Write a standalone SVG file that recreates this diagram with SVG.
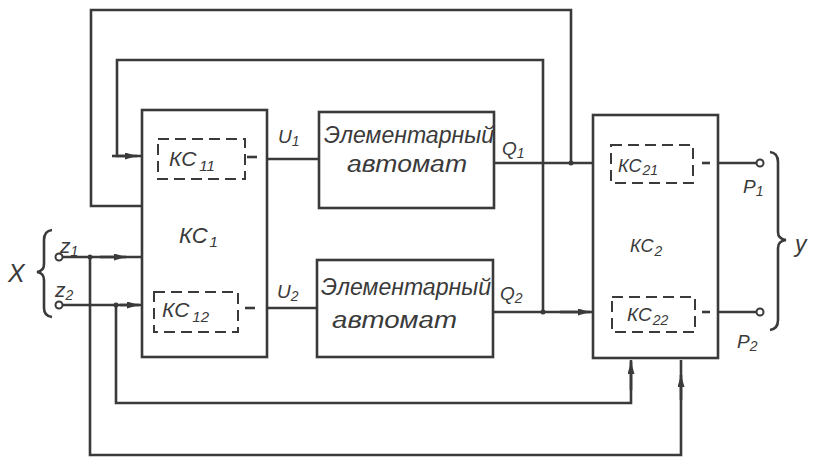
<svg xmlns="http://www.w3.org/2000/svg" width="816" height="460" viewBox="0 0 816 460">
<style>
.box{fill:none;stroke:#3a3a3a;stroke-width:2.6}
.dash{fill:none;stroke:#3a3a3a;stroke-width:2;stroke-dasharray:11 6}
.wire{fill:none;stroke:#3a3a3a;stroke-width:2.6}
.arr{fill:none;stroke:#3a3a3a;stroke-width:2.6;marker-end:url(#ah)}
.term{fill:#fff;stroke:#3a3a3a;stroke-width:2}
.dot{fill:#3a3a3a}
text{font-family:"Liberation Sans","DejaVu Sans",sans-serif;font-style:italic;fill:#3a3a3a}
.sub{font-size:14px}
</style>
<defs>
<marker id="ah" viewBox="0 0 12 7" refX="12" refY="3.5" markerUnits="userSpaceOnUse" markerWidth="12" markerHeight="7" orient="auto">
<path d="M0,0 L12,3.5 L0,7 z" fill="#3a3a3a"/>
</marker>
</defs>
<rect width="816" height="460" fill="#fff"/>

<g id="connectors">
<path class="wire" d="M62,257 H142"/>
<path class="wire" d="M62,305 H142"/>
<path class="wire" d="M90,257 V455 H681 V360"/>
<path class="wire" d="M116,305 V403 H631 V360"/>
<path class="wire" d="M543,312 V60 H117 V156 H142"/>
<path class="wire" d="M571,163 V10 H91 V206 H142"/>
<path class="wire" d="M267,159 H319"/>
<path class="wire" d="M267,308 H317"/>
<path class="wire" d="M494,163 H593"/>
<path class="wire" d="M493,312 H593"/>
<path class="wire" d="M718,163 H756.5"/>
<path class="wire" d="M718,312 H756.5"/>
<path class="arr" d="M112,156 H137"/>
<path class="arr" d="M100,257 H126"/>
<path class="arr" d="M120,305 H139"/>
<path class="arr" d="M560,312 H590"/>
<path class="arr" d="M631,390 V362"/>
<path class="arr" d="M681,400 V375"/>
<circle class="dot" cx="90" cy="257" r="2.5"/>
<circle class="dot" cx="116" cy="305" r="2.5"/>
<circle class="dot" cx="571" cy="163" r="2.5"/>
<circle class="dot" cx="543" cy="312" r="2.5"/>
</g>

<g id="inputs">
<text x="8" y="282" font-size="25">X</text>
<path class="wire" stroke-width="2" d="M52,230 Q44,231 44,240 L44,264 Q44,271 37,272 Q44,273 44,280 L44,308 Q44,316 52,317"/>
<circle class="term" cx="59" cy="257" r="3.5"/>
<circle class="term" cx="59" cy="305" r="3.5"/>
<text x="60" y="253" font-size="21">z<tspan class="sub" dy="3">1</tspan></text>
<text x="55" y="297" font-size="21">z<tspan class="sub" dy="3">2</tspan></text>
</g>

<g id="kc1">
<rect class="box" x="142" y="110" width="125" height="247"/>
<text x="179" y="243" font-size="22">КС<tspan font-size="15" dy="4" dx="2">1</tspan></text>
<g id="kc11">
<rect class="dash" x="158" y="139" width="87" height="40"/>
<path class="wire" stroke-width="2" d="M247,157 H257"/>
<text x="169" y="166" font-size="21">КС<tspan font-size="15" dy="5" dx="3">11</tspan></text>
</g>
<g id="kc12">
<rect class="dash" x="154" y="292" width="84" height="40"/>
<path class="wire" stroke-width="2" d="M245,308 H255"/>
<text x="162" y="317" font-size="21">КС<tspan font-size="15" dy="5" dx="3">12</tspan></text>
</g>
</g>

<g id="label-u">
<text x="278" y="143" font-size="19">U<tspan class="sub" dy="3">1</tspan></text>
<text x="277" y="298" font-size="19">U<tspan class="sub" dy="3">2</tspan></text>
</g>

<g id="automat1">
<rect class="box" x="319" y="112" width="175" height="96"/>
<text x="324" y="143" font-size="23" textLength="170" lengthAdjust="spacingAndGlyphs">Элементарный</text>
<text x="347" y="172" font-size="23" textLength="120" lengthAdjust="spacingAndGlyphs">автомат</text>
</g>

<g id="automat2">
<rect class="box" x="317" y="260" width="176" height="97"/>
<text x="321" y="295" font-size="23" textLength="170" lengthAdjust="spacingAndGlyphs">Элементарный</text>
<text x="332" y="328" font-size="23" textLength="125" lengthAdjust="spacingAndGlyphs">автомат</text>
</g>

<g id="label-q">
<text x="502" y="155" font-size="19">Q<tspan class="sub" dy="3">1</tspan></text>
<text x="500" y="300" font-size="19">Q<tspan class="sub" dy="3">2</tspan></text>
</g>

<g id="kc2">
<rect class="box" x="593" y="115" width="125" height="243"/>
<text x="630" y="252" font-size="18">КС<tspan class="sub" dy="4" dx="1">2</tspan></text>
<g id="kc21">
<rect class="dash" x="611" y="145" width="82" height="38"/>
<path class="wire" stroke-width="2" d="M702,163 H710"/>
<text x="618" y="172" font-size="18">КС<tspan class="sub" dy="3" dx="1">21</tspan></text>
</g>
<g id="kc22">
<rect class="dash" x="612" y="297" width="83" height="35"/>
<path class="wire" stroke-width="2" d="M702,312 H710"/>
<text x="627" y="321" font-size="19">КС<tspan class="sub" dy="4" dx="1">22</tspan></text>
</g>
</g>

<g id="outputs">
<circle class="term" cx="760" cy="163" r="3.5"/>
<circle class="term" cx="760" cy="312" r="3.5"/>
<text x="743" y="193" font-size="19">P<tspan class="sub" dy="3">1</tspan></text>
<text x="737" y="348" font-size="19">P<tspan class="sub" dy="3">2</tspan></text>
<path class="wire" stroke-width="2" d="M770,152 Q778,153 778,162 L778,232 Q778,239 786,240 Q778,241 778,248 L778,320 Q778,329 770,330"/>
<text x="795" y="252" font-size="23">y</text>
</g>
</svg>
